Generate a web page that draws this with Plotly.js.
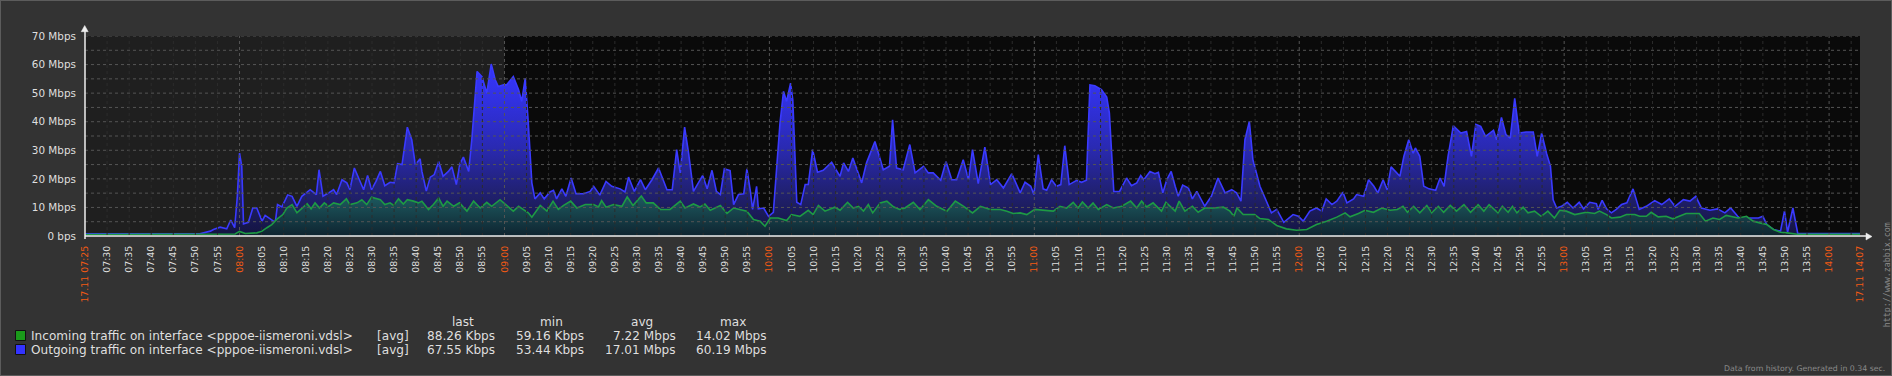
<!DOCTYPE html>
<html>
<head>
<meta charset="utf-8">
<script src="https://cdn.plot.ly/plotly-3.0.1.min.js"></script>
<style>
html,body{margin:0;padding:0;background:#333333;}
#chart{width:1890px;height:374px;border:1px solid #5c5c5c;}
</style>
</head>
<body>
<div id="chart"></div>
<script>
// ---- time axis (minutes after the start clock) ----
const dateLabel = "17.11";
const startClock = "07:25";
const endClock = "14:07";
const workStartClock = "09:00";

// ---- Outgoing traffic (Mbps) ----
const outMinutes = [0,26,28.4,29.1,30.6,32.1,33.0,33.9,34.5,35.0,35.5,35.9,37.0,38.0,38.9,40.1,40.8,42.3,43.1,43.6,44.6,45.9,46.9,48.0,49.1,51.0,52.4,53.0,53.4,53.9,55.2,56.3,57.0,58.2,59.3,60.0,61.0,62.2,63.1,64.0,64.9,65.9,66.9,67.9,69.1,70.0,70.8,71.8,72.5,73.0,74.0,74.8,75.9,76.3,77.3,78.2,79.1,80.1,81.1,82.3,83.1,84.1,84.9,85.7,86.9,87.6,88.8,89.9,91.0,92.0,92.9,93.6,94.8,95.5,97.0,98.2,98.9,99.7,100.4,101.2,101.9,103.1,104.0,105.3,106.1,106.8,108.0,108.9,110.1,111.2,112.9,114.4,115.2,116.6,118.0,119.3,121.2,122.3,123.1,124.4,125.8,126.9,128.4,129.9,131.8,133.0,134.0,134.8,135.8,136.7,137.8,138.9,139.9,140.9,142.0,143.0,143.9,144.8,146.1,146.9,148.0,149.2,149.9,150.7,151.2,152.1,152.5,153.7,154.8,155.9,156.6,157.4,158.2,158.9,159.8,160.3,160.8,161.2,162.1,163.1,163.8,164.8,165.9,167.2,169.1,171.0,171.8,172.9,173.9,174.8,175.9,177.0,178.9,180.8,182.2,182.9,183.8,185.3,186.8,188.0,189.9,191.0,192.1,193.8,195.0,196.3,197.4,198.9,200.1,201.0,202.3,203.8,205.1,206.5,208.0,209.9,211.8,212.9,214.2,214.9,215.9,217.0,217.8,218.9,220.0,221.0,221.9,222.9,224.6,225.7,226.8,227.6,228.7,230.2,231.4,232.0,232.5,233.0,234.3,235.9,237.0,238.2,239.1,239.8,241.2,242.3,243.1,244.1,245.0,246.0,246.9,247.6,248.6,249.9,250.8,251.8,253.6,255.1,256.6,258.2,259.7,260.8,261.8,262.7,263.7,264.5,266.1,267.4,268.7,269.9,271.5,273.6,274.8,275.9,277.4,278.9,280.1,281.1,282.4,283.5,284.9,285.8,287.3,288.0,289.6,290.7,291.9,292.8,294.0,294.9,295.8,297.8,298.7,299.8,300.8,301.3,302.3,303.2,304.4,305.9,306.9,307.8,308.7,309.9,311.6,312.9,314.0,315.0,316.1,317.2,318.2,319.0,319.7,320.8,321.8,322.8,323.8,324.8,326.4,328.0,328.9,329.9,331.0,331.9,332.5,333.3,334.4,335.7,337.0,338.4,339.4,340.8,342.3,342.7,343.6,344.6,345.7,346.8,348.0,349.2,350.6,352.0,353.6,355.5,357.1,358.8,360.1,362.0,363.5,364.8,366.1,368.0,369.7,371.4,372.7,374.3,375.6,377.1,379.0,380.0,380.9,382.4,384.0,384.9,385.6,386.8,387.9,398,399,400,402];
const outMbps = [0.8,0.8,1.7,2.3,3.1,2.5,5.6,2.9,13.9,29.0,24.4,4.2,4.8,9.8,9.8,5.2,7.2,5.8,4.8,11.0,10.2,14.4,13.9,10.4,13.9,16.2,14.5,23.2,19.7,13.9,15.1,16.2,14.5,19.7,18.6,16.2,23.8,19.1,16.2,21.2,16.2,19.1,22.6,17.6,18.8,18.6,25.3,25.0,32.5,38.1,33.7,25.0,27.0,22.6,15.7,20.6,21.5,26.1,20.9,22.6,24.2,18.0,25.3,27.6,22.6,33.7,57.6,55.8,50.0,60.2,54.7,52.3,52.9,52.9,55.8,51.2,47.1,55.2,39.5,18.6,13.0,15.1,13.0,15.4,16.0,13.0,16.5,13.9,20.3,14.8,14.8,15.6,17.4,14.3,19.1,17.4,16.5,15.4,20.6,15.6,19.7,16.2,19.7,23.8,16.2,16.2,30.2,22.1,38.1,29.0,15.6,18.6,21.2,16.5,23.0,15.6,14.5,23.5,22.9,11.0,14.5,14.8,23.5,15.6,9.3,17.4,9.5,9.8,6.9,8.3,22.1,39.5,50.6,47.1,53.5,47.7,27.9,11.8,11.0,18.0,18.0,30.2,22.3,23.0,25.8,20.9,25.6,22.6,27.3,23.2,18.6,25.6,33.1,23.2,24.4,40.7,23.8,23.2,32.0,22.1,24.4,22.1,22.1,19.5,26.1,19.7,19.7,26.7,19.7,30.2,18.3,31.1,18.0,19.7,16.8,21.8,15.1,18.8,17.4,14.5,28.5,16.5,16.0,19.7,17.4,18.0,31.6,18.0,19.5,18.8,19.5,52.9,52.6,51.2,48.6,43.0,27.9,15.6,15.6,20.3,17.6,18.6,21.2,19.7,22.6,21.8,22.3,15.1,19.7,22.6,17.4,13.9,17.8,16.8,13.0,15.6,10.4,13.9,20.3,15.1,16.2,15.1,12.2,33.7,40.1,26.7,17.4,12.7,8.1,9.3,4.8,7.5,6.9,5.2,8.7,9.8,8.7,13.0,11.0,12.2,15.3,11.6,13.0,14.5,13.9,19.7,17.4,15.1,19.7,16.2,24.2,20.9,27.9,33.7,29.0,30.8,27.9,17.4,16.5,16.0,20.3,17.4,27.9,38.6,36.0,36.6,27.9,39.1,38.4,34.9,36.0,37.0,33.7,41.5,35.5,34.3,48.2,36.0,36.4,36.4,27.9,36.0,29.0,24.4,12.7,9.8,10.4,11.8,9.8,11.8,9.5,11.8,11.3,9.3,12.5,9.5,8.1,9.3,11.0,11.6,16.5,9.3,10.4,12.4,11.0,13.0,10.4,12.7,12.2,13.9,9.8,9.0,9.5,8.1,9.8,6.9,5.2,6.3,6.3,6.9,4.0,2.3,1.7,8.7,1.3,9.8,0.9,0.9,1.1,0.9,0.9];

// ---- Incoming traffic (Mbps) ----
const inMinutes = [0,34,35.0,36.3,38.9,40.1,41.2,42.3,43.4,44.8,45.7,46.9,48.0,49.1,50.3,51.2,52.1,53.1,54.2,55.2,56.3,57.8,59.2,60.0,61.6,62.7,63.8,64.9,66.9,67.9,69.1,69.9,71.0,72.1,73.0,74.4,75.5,76.3,77.8,78.9,80.1,81.1,82.0,83.5,84.8,86.5,88.0,89.5,91.0,92.1,94.0,95.5,97.0,98.2,99.3,100.4,101.2,103.1,104.6,106.0,107.2,108.4,110.0,111.4,113.3,115.2,116.3,117.0,118.0,119.7,121.6,122.8,124.1,126.0,127.1,128.7,130.3,132.5,134.8,135.9,137.8,139.3,140.4,141.6,143.9,145.4,146.9,148.4,149.9,151.4,152.9,154.0,155.2,157.0,158.9,160.0,161.9,163.8,164.9,166.1,167.6,169.8,171.0,172.7,174.0,175.2,176.3,177.4,178.4,180.1,181.6,183.1,184.5,185.7,187.6,189.1,191.0,192.9,195.2,197.1,199.0,201.0,202.8,205.0,207.3,208.8,210.2,211.8,213.3,215.1,217.0,219.3,220.8,222.3,223.8,224.9,225.9,227.2,228.3,229.5,231.4,232.9,234.8,236.8,238.2,239.3,240.4,241.9,243.8,244.8,246.9,247.8,249.1,250.8,252.1,253.6,255.5,257.8,259.3,260.2,260.9,262.3,264.9,266.1,268.0,269.9,272.1,274.4,276.7,278.9,281.2,283.5,285.4,286.5,288.4,289.9,291.8,293.7,295.6,297.2,298.5,299.5,300.9,302.3,303.9,305.0,306.5,307.7,309.2,310.6,312.3,313.8,315.5,316.8,318.0,320.0,321.0,322.3,323.3,324.3,325.7,326.8,328.3,329.8,331.3,332.8,334.0,335.5,337.4,340.0,341.9,343.0,344.6,345.7,347.6,349.1,351.0,352.1,353.6,354.7,356.3,358.1,359.6,361.1,362.6,365.6,367.0,368.7,370.2,371.7,374.4,376.3,377.8,379.3,380.9,382.4,384.0,385.5,387.8,402];
const inMbps = [0.5,0.7,1.6,0.9,1.1,1.7,2.9,4.0,5.8,7.5,9.8,11.0,8.1,9.8,11.3,9.5,11.6,9.8,11.6,10.4,11.6,11.0,13.0,11.0,11.6,12.7,11.0,13.6,12.7,11.0,11.6,10.7,13.0,11.2,12.7,12.2,11.6,12.2,9.3,11.0,13.3,10.4,12.2,10.4,11.6,8.7,12.2,9.8,11.8,10.4,12.7,10.7,8.7,10.4,9.3,8.1,6.6,10.7,8.7,12.2,9.3,10.7,12.2,9.8,11.0,11.0,10.2,12.4,10.1,11.0,10.4,13.7,10.7,14.0,11.6,11.6,9.3,9.3,12.2,9.8,11.2,10.2,11.2,9.0,10.7,7.9,9.8,9.3,8.7,5.8,5.2,3.4,6.3,6.3,5.4,7.5,6.9,9.0,7.5,10.7,8.7,10.1,9.0,11.8,9.8,10.4,8.7,11.0,8.1,11.6,12.2,10.2,9.3,9.8,11.8,9.3,12.7,10.4,8.7,12.2,10.4,8.1,10.4,9.3,9.3,8.7,7.9,8.1,7.5,9.3,9.0,8.7,10.4,9.8,11.8,9.8,11.9,9.8,11.6,9.3,11.0,9.8,10.4,12.2,9.8,12.2,10.2,11.6,8.7,11.8,8.7,12.2,8.7,10.4,8.3,9.8,9.8,10.1,8.7,6.9,9.8,7.5,7.5,6.1,5.8,3.7,2.5,2.0,2.3,4.0,5.2,6.6,8.1,6.7,7.9,9.0,8.3,9.8,9.0,9.3,10.4,8.3,10.4,8.1,10.7,8.1,10.4,8.3,10.7,8.7,11.0,8.3,11.0,8.7,11.0,8.1,10.4,8.3,10.4,8.1,10.1,8.1,8.7,6.9,8.7,6.3,9.0,8.7,7.5,8.3,7.9,8.7,7.5,6.3,6.6,7.5,7.5,6.9,6.9,8.3,6.7,6.9,6.0,6.9,7.9,7.9,5.2,6.3,5.8,7.2,6.3,6.9,5.2,4.6,4.0,2.3,1.3,1.1,0.6,0.6];

// ---- axis labels ----
const yTickValues = [0,10,20,30,40,50,60,70];
const yTickLabels = ["0 bps","10 Mbps","20 Mbps","30 Mbps","40 Mbps","50 Mbps","60 Mbps","70 Mbps"];

// ---- legend table ----
const legendHeaders = ["last","min","avg","max"];
const seriesNames = ["Incoming traffic on interface <pppoe-iismeroni.vdsl>","Outgoing traffic on interface <pppoe-iismeroni.vdsl>"];
const seriesFunc = ["[avg]","[avg]"];
const incomingStats = ["88.26 Kbps","59.16 Kbps","7.22 Mbps","14.02 Mbps"];
const outgoingStats = ["67.55 Kbps","53.44 Kbps","17.01 Mbps","60.19 Mbps"];
const footerText = "Data from history. Generated in 0.34 sec.";
const sideText = "http://www.zabbix.com";

// ---- styling ----
const ORANGE = "#f25a14", TEXT = "#dfdfdf";
const FONT = "DejaVu Sans, Verdana, sans-serif";
const W = 1890, H = 374, ML = 84, MR = 31, MT = 35, MB = 139;
const PW = W - ML - MR, PH = H - MT - MB;
const fx = p => (p - 1 - ML) / PW;          // page x -> paper
const fy = p => (MT + PH - (p - 1)) / PH;   // page y -> paper

function clockToMin(c){const [h,m]=c.split(":").map(Number);return h*60+m;}
const t0 = clockToMin(startClock);
const tEnd = clockToMin(endClock) - t0;
const tWork = clockToMin(workStartClock) - t0;
function clockOf(m){const t=t0+m;const h=Math.floor(t/60),mm=t%60;return String(h).padStart(2,"0")+":"+String(mm).padStart(2,"0");}
const esc = s => s.replace(/&/g,"&amp;").replace(/</g,"&lt;").replace(/>/g,"&gt;");

// ticks every 5 minutes plus the start/end stamps
const xTickVals = [0], xTickText = [`<span style="color:${ORANGE}">${dateLabel} ${startClock}</span>`];
for (let m = 5; m <= tEnd - 5; m += 5) {
  const c = clockOf(m);
  xTickVals.push(m);
  xTickText.push(c.endsWith(":00") ? `<span style="color:${ORANGE}">${c}</span>` : c);
}
xTickVals.push(tEnd);
xTickText.push(`<span style="color:${ORANGE}">${dateLabel} ${endClock}</span>`);

const shapes = [];
// non-working time background
shapes.push({type:"rect",xref:"x",yref:"y",x0:0,x1:tWork,y0:0,y1:70,fillcolor:"#1f1f1f",line:{width:0},layer:"below"});
// horizontal grid
for (let v = 5; v <= 70; v += 5) {
  shapes.push({type:"line",xref:"paper",yref:"y",x0:0,x1:1,y0:v,y1:v,line:{color:"#555555",width:1,dash:"3px,3px"},layer:"above"});
}
// vertical grid
for (let m = 5; m < tEnd; m += 5) {
  const hour = clockOf(m).endsWith(":00");
  shapes.push({type:"line",xref:"x",yref:"paper",x0:m,x1:m,y0:0,y1:1,line:{color:hour?"#555555":"#2c2c2c",width:1,dash:"3px,3px"},layer:"above"});
}
// axes with arrows
const AX = "#efefef";
shapes.push({type:"line",xref:"paper",yref:"paper",x0:0,x1:fx(1866),y0:0,y1:0,line:{color:AX,width:1.5},layer:"above"});
shapes.push({type:"line",xref:"paper",yref:"paper",x0:0,x1:0,y0:fy(239),y1:fy(31),line:{color:AX,width:1.5},layer:"above"});
shapes.push({type:"path",xref:"paper",yref:"paper",layer:"above",fillcolor:AX,line:{color:AX,width:0.5},
  path:`M ${fx(1866)},${fy(233)} L ${fx(1872)},${fy(236.5)} L ${fx(1866)},${fy(240)} Z`});
shapes.push({type:"path",xref:"paper",yref:"paper",layer:"above",fillcolor:AX,line:{color:AX,width:0.5},
  path:`M ${fx(81.2)},${fy(31.7)} L ${fx(84.7)},${fy(25.5)} L ${fx(88.2)},${fy(31.7)} Z`});
// legend swatches
shapes.push({type:"rect",xref:"paper",yref:"paper",x0:fx(15.5),x1:fx(25.5),y0:fy(330.5),y1:fy(340.5),fillcolor:"#1a9a1a",line:{color:"#111111",width:1}});
shapes.push({type:"rect",xref:"paper",yref:"paper",x0:fx(15.5),x1:fx(25.5),y0:fy(344.5),y1:fy(354.5),fillcolor:"#3333ff",line:{color:"#111111",width:1}});

const ann = [];
function txt(text,x,y,anchor,size,color,extra){
  ann.push(Object.assign({text:text,xref:"paper",yref:"paper",x:fx(x),y:fy(y),xanchor:anchor,yanchor:"middle",showarrow:false,
    font:{family:FONT,size:size,color:color},borderpad:0},extra||{}));
}
const LF = 12.1;
const headerX = [462.8,551,641.8,733.2];
legendHeaders.forEach((h,i)=>txt(h,headerX[i],322,"center",LF,TEXT));
const statRight = [496,585.2,677,768.4];
const rowsY = [335.7,349.5];
[incomingStats,outgoingStats].forEach((stats,r)=>{
  txt(esc(seriesNames[r]),30,rowsY[r],"left",LF,TEXT);
  txt(seriesFunc[r],376,rowsY[r],"left",LF,TEXT);
  stats.forEach((s,i)=>txt(s,statRight[i],rowsY[r],"right",LF,TEXT));
});
txt(footerText,1886,368.3,"right",7.8,"#8a8a8a");
txt(sideText,1887,274.2,"center",8.3,"#8a8a8a",{textangle:-90,font:{family:"DejaVu Sans Mono, monospace",size:8.3,color:"#8a8a8a"}});

const traces = [
  {x:outMinutes,y:outMbps,type:"scatter",mode:"lines",hoverinfo:"skip",
   line:{color:"#3a3aff",width:1.6},fill:"tozeroy",
   fillgradient:{type:"vertical",start:0,stop:70,colorscale:[[0,"#141440"],[0.2,"#20206c"],[0.45,"#2a2ab4"],[0.75,"#3333ee"],[1,"#3838ff"]]}},
  {x:inMinutes,y:inMbps,type:"scatter",mode:"lines",hoverinfo:"skip",
   line:{color:"#1e9a44",width:1.6},fill:"tozeroy",
   fillgradient:{type:"vertical",start:0,stop:70,colorscale:[[0,"#0f2430"],[0.2,"#1d5a60"],[1,"#2f9090"]]}}
];

const layout = {
  width:W,height:H,margin:{l:ML,r:MR,t:MT,b:MB},
  paper_bgcolor:"#333333",plot_bgcolor:"#0a0a0a",showlegend:false,
  font:{family:FONT,color:TEXT},
  xaxis:{type:"linear",range:[0,tEnd],tickvals:xTickVals,ticktext:xTickText,tickangle:-90,
    tickfont:{family:FONT,size:9.4,color:TEXT},ticks:"outside",ticklen:5,tickcolor:"rgba(0,0,0,0)",
    showgrid:false,zeroline:false,showline:false,fixedrange:true},
  yaxis:{range:[0,70],tickvals:yTickValues,ticktext:yTickLabels,
    tickfont:{family:FONT,size:10.4,color:TEXT},ticks:"outside",ticklen:6,tickcolor:"rgba(0,0,0,0)",
    showgrid:false,zeroline:false,showline:false,fixedrange:true},
  shapes:shapes,annotations:ann
};
Plotly.newPlot("chart",traces,layout,{displayModeBar:false,staticPlot:true});
</script>
</body>
</html>
